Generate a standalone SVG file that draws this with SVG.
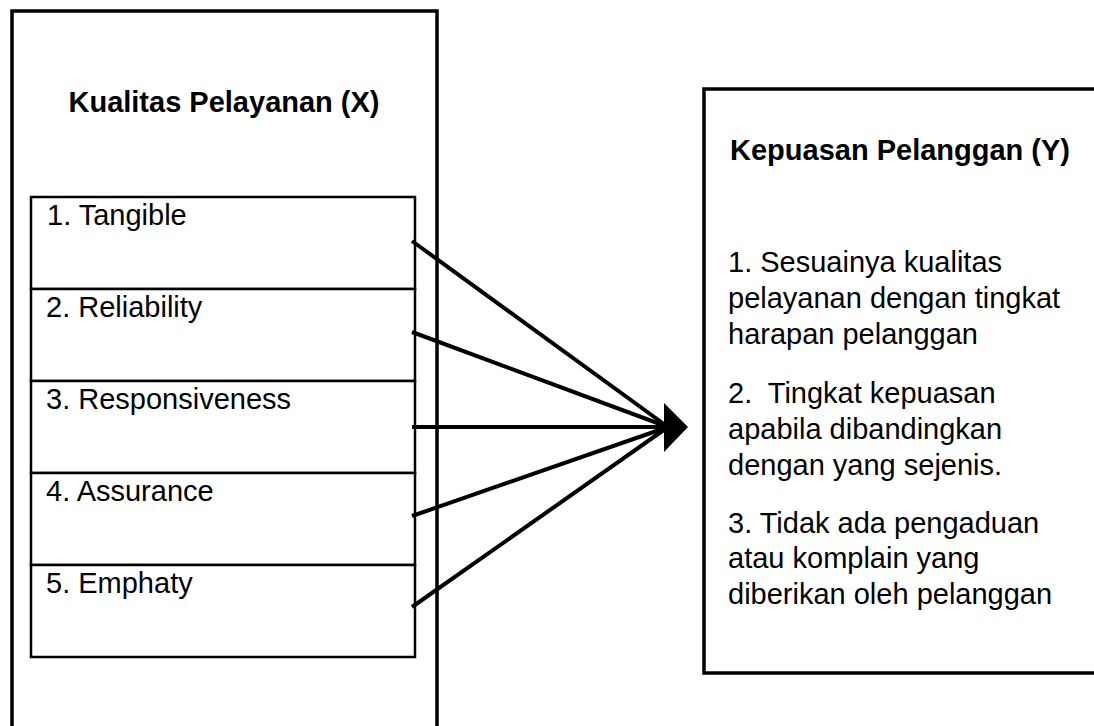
<svg xmlns="http://www.w3.org/2000/svg" width="1094" height="726" viewBox="0 0 1094 726">
<style>
.outer{fill:none;stroke:#000;stroke-width:3.5}
.inner{fill:#fff;stroke:#000;stroke-width:2.5}
.t{font-family:"Liberation Sans",Arial,sans-serif;font-size:29px;fill:#000}
.b{font-family:"Liberation Sans",Arial,sans-serif;font-size:29px;font-weight:bold;fill:#000}
.conn{stroke:#000;stroke-width:4;fill:none}
</style>
<rect width="1094" height="726" fill="#fff"/>
<g id="nodeX">
<rect class="outer" x="12" y="11" width="425" height="800"/>
<text class="b" x="224" y="112" text-anchor="middle">Kualitas Pelayanan (X)</text>
</g>
<g id="x1"><rect class="inner" x="31" y="197" width="384" height="92"/><text class="t" x="47" y="225">1. Tangible</text></g>
<g id="x2"><rect class="inner" x="31" y="289" width="384" height="92"/><text class="t" x="46" y="317">2. Reliability</text></g>
<g id="x3"><rect class="inner" x="31" y="381" width="384" height="92"/><text class="t" x="46" y="409">3. Responsiveness</text></g>
<g id="x4"><rect class="inner" x="31" y="473" width="384" height="92"/><text class="t" x="46" y="501">4. Assurance</text></g>
<g id="x5"><rect class="inner" x="31" y="565" width="384" height="92"/><text class="t" x="46" y="593">5. Emphaty</text></g>
<g id="nodeY">
<rect class="outer" x="704" y="89" width="500" height="584"/>
<text class="b" x="730" y="160">Kepuasan Pelanggan (Y)</text>
<text class="t" x="728"><tspan x="728" y="272">1. Sesuainya kualitas</tspan><tspan x="728" y="308">pelayanan dengan tingkat</tspan><tspan x="728" y="344">harapan pelanggan</tspan></text>
<text class="t" x="728"><tspan x="728" y="403" xml:space="preserve">2.  Tingkat kepuasan</tspan><tspan x="728" y="439">apabila dibandingkan</tspan><tspan x="728" y="475">dengan yang sejenis.</tspan></text>
<text class="t" x="728"><tspan x="728" y="533">3. Tidak ada pengaduan</tspan><tspan x="728" y="568">atau komplain yang</tspan><tspan x="728" y="604">diberikan oleh pelanggan</tspan></text>
</g>
<g id="connectors">
<line class="conn" x1="412" y1="241" x2="668" y2="427"/>
<line class="conn" x1="412" y1="332" x2="668" y2="427"/>
<line class="conn" x1="412" y1="427" x2="668" y2="427"/>
<line class="conn" x1="412" y1="516" x2="668" y2="427"/>
<line class="conn" x1="412" y1="607" x2="668" y2="427"/>
<polygon points="664,403 688,427 664,452" fill="#000"/>
</g>
</svg>
